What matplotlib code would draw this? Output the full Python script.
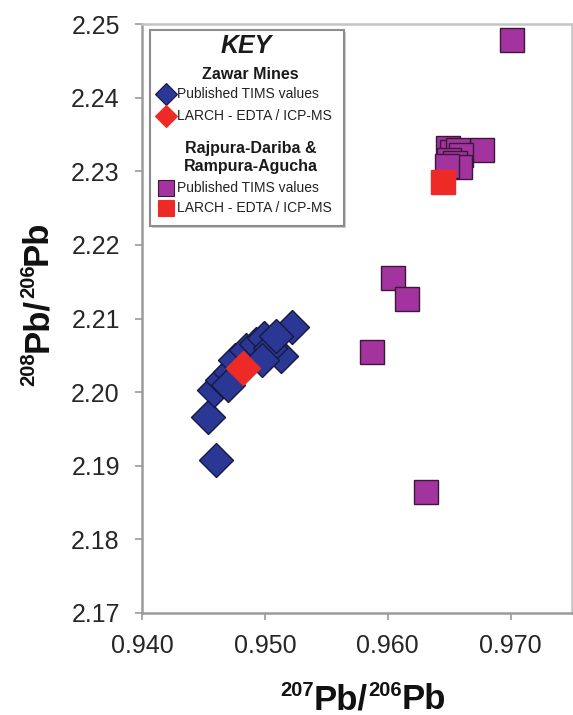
import matplotlib
matplotlib.use("Agg")
import matplotlib.pyplot as plt
from matplotlib.patches import Rectangle
from matplotlib.lines import Line2D

plt.rcParams['font.family'] = ['Liberation Sans', 'DejaVu Sans']

# ---- data ----
zawar_tims_x = [0.9460, 0.9454, 0.9522, 0.9513, 0.9459, 0.9465, 0.9472, 0.9476,
                0.9485, 0.9493, 0.9499, 0.9504, 0.9498, 0.9470, 0.9509]
zawar_tims_y = [2.1908, 2.1966, 2.2088, 2.2049, 2.2003, 2.2016, 2.2027, 2.2043,
                2.2057, 2.2065, 2.2073, 2.2060, 2.2043, 2.2010, 2.2076]
zawar_larch_x = [0.9482]
zawar_larch_y = [2.2033]
rd_tims_x = [0.9604, 0.9616, 0.9587, 0.9631, 0.9701, 0.9677,
             0.9649, 0.9652, 0.9657, 0.9660, 0.9650, 0.9655, 0.9659, 0.9648]
rd_tims_y = [2.2155, 2.2126, 2.2054, 2.1864, 2.2478, 2.2329,
             2.2332, 2.2326, 2.2329, 2.2322, 2.2315, 2.2311, 2.2306, 2.2307]
rd_larch_x = [0.9645]
rd_larch_y = [2.2285]

x_ticks = [0.940, 0.950, 0.960, 0.970]
x_ticklabels = ['0.940', '0.950', '0.960', '0.970']
y_ticks = [2.17, 2.18, 2.19, 2.20, 2.21, 2.22, 2.23, 2.24, 2.25]
y_ticklabels = ['2.17', '2.18', '2.19', '2.20', '2.21', '2.22', '2.23', '2.24', '2.25']

BLUE = '#2b3795'
PURPLE = '#a3349f'
RED = '#ee2a27'

W, H = 573, 715
fig = plt.figure(figsize=(W / 100, H / 100), dpi=100)
ax = fig.add_axes([142 / W, 1 - 613 / H, (572 - 142) / W, (613 - 24) / H])
ax.set_xlim(0.940, 0.975)
ax.set_ylim(2.17, 2.25)

ax.plot(zawar_tims_x, zawar_tims_y, 'D', ms=17, mfc=BLUE, mec='#15183f', mew=1.0, ls='none', zorder=3)
ax.plot(zawar_larch_x, zawar_larch_y, 'D', ms=17, mfc=RED, mec=RED, mew=1.0, ls='none', zorder=4)
ax.plot(rd_tims_x, rd_tims_y, 's', ms=17, mfc=PURPLE, mec='#3a1838', mew=1.0, ls='none', zorder=3)
ax.plot(rd_larch_x, rd_larch_y, 's', ms=17, mfc=RED, mec=RED, mew=1.0, ls='none', zorder=4)

ax.set_xticks(x_ticks)
ax.set_xticklabels(x_ticklabels)
ax.set_yticks(y_ticks)
ax.set_yticklabels(y_ticklabels)
ax.tick_params(axis='both', direction='out', length=5, width=1.2, color='#999999',
               labelsize=18, labelcolor='#262626')
ax.tick_params(axis='y', pad=11)
ax.tick_params(axis='x', pad=10)
for side in ['left', 'bottom']:
    ax.spines[side].set_color('#9a9a9a')
    ax.spines[side].set_linewidth(1.8)
for side in ['top', 'right']:
    ax.spines[side].set_color('#c4c4c4')
    ax.spines[side].set_linewidth(1.8)


def ax_pt(px, py):
    return ((px - 142) / 430, (613 - py) / 589)


# ---- legend (KEY) ----
x0, y0 = ax_pt(150, 226)
x1, y1 = ax_pt(344, 30)
shadow = Rectangle((x0 + 0.004, y0 - 0.004), x1 - x0, y1 - y0, transform=ax.transAxes,
                   facecolor='#d0d0d0', edgecolor='none', zorder=5)
ax.add_patch(shadow)
box = Rectangle((x0, y0), x1 - x0, y1 - y0, transform=ax.transAxes,
                facecolor='white', edgecolor='#8c8c8c', linewidth=1.5, zorder=6)
ax.add_patch(box)

ax.text(*ax_pt(246, 53), 'KEY', transform=ax.transAxes, ha='center', va='baseline',
        fontsize=18, fontweight='bold', fontstyle='italic', color='#1a1a1a', zorder=7)
ax.text(*ax_pt(250, 79), 'Zawar Mines', transform=ax.transAxes, ha='center', va='baseline',
        fontsize=11.5, fontweight='bold', color='#1a1a1a', zorder=7)
ax.text(*ax_pt(251, 153), 'Rajpura-Dariba &', transform=ax.transAxes, ha='center', va='baseline',
        fontsize=11.5, fontweight='bold', color='#1a1a1a', zorder=7)
ax.text(*ax_pt(251, 171), 'Rampura-Agucha', transform=ax.transAxes, ha='center', va='baseline',
        fontsize=11.5, fontweight='bold', color='#1a1a1a', zorder=7)

legend_rows = [
    (94, 'D', 11.5, BLUE, '#15183f', 'Published TIMS values'),
    (116, 'D', 11.5, RED, RED, 'LARCH - EDTA / ICP-MS'),
    (188, 's', 12, PURPLE, '#3a1838', 'Published TIMS values'),
    (208, 's', 12, RED, RED, 'LARCH - EDTA / ICP-MS'),
]
for py, mk, ms, fc, ec, label in legend_rows:
    mx, my = ax_pt(166, py)
    ax.add_line(Line2D([mx], [my], marker=mk, ms=ms, mfc=fc, mec=ec, mew=0.8, ls='none',
                       transform=ax.transAxes, zorder=7))
    tx, ty = ax_pt(177, py)
    ax.text(tx, ty, label, transform=ax.transAxes, ha='left', va='center',
            fontsize=10, color='#222222', zorder=7)

# ---- axis labels with small superscripts ----
fig.canvas.draw()
renderer = fig.canvas.get_renderer()

BASE = 25
SUP = 14.5
RISE = 13


def rich_label_h(pieces, center_x, baseline_y):
    items = []
    for s, size, rise in pieces:
        t = fig.text(0, 0, s, fontsize=size, fontweight='bold', color='#111111',
                     ha='left', va='baseline')
        bb = t.get_window_extent(renderer)
        items.append((t, bb.width, rise))
    total = sum(w for _, w, _ in items)
    pos = center_x - total / 2
    for t, w, rise in items:
        t.set_position((pos / W, 1 - (baseline_y - rise) / H))
        pos += w


def rich_label_v(pieces, center_y, baseline_x):
    items = []
    for s, size, rise in pieces:
        t = fig.text(0, 0, s, fontsize=size, fontweight='bold', color='#111111',
                     rotation=90, rotation_mode='anchor', ha='left', va='baseline')
        bb = t.get_window_extent(renderer)
        items.append((t, bb.height, rise))
    total = sum(h for _, h, _ in items)
    pos = center_y + total / 2
    for t, h, rise in items:
        t.set_position(((baseline_x - rise) / W, 1 - pos / H))
        pos -= h


rich_label_h([('207', SUP, RISE), ('Pb/', BASE, 0), ('206', SUP, RISE), ('Pb', BASE, 0)],
             center_x=363, baseline_y=709)
rich_label_v([('208', SUP, RISE), ('Pb/', BASE, 0), ('206', SUP, RISE), ('Pb', BASE, 0)],
             center_y=303, baseline_x=47)

fig.savefig('out.png', dpi=100)
